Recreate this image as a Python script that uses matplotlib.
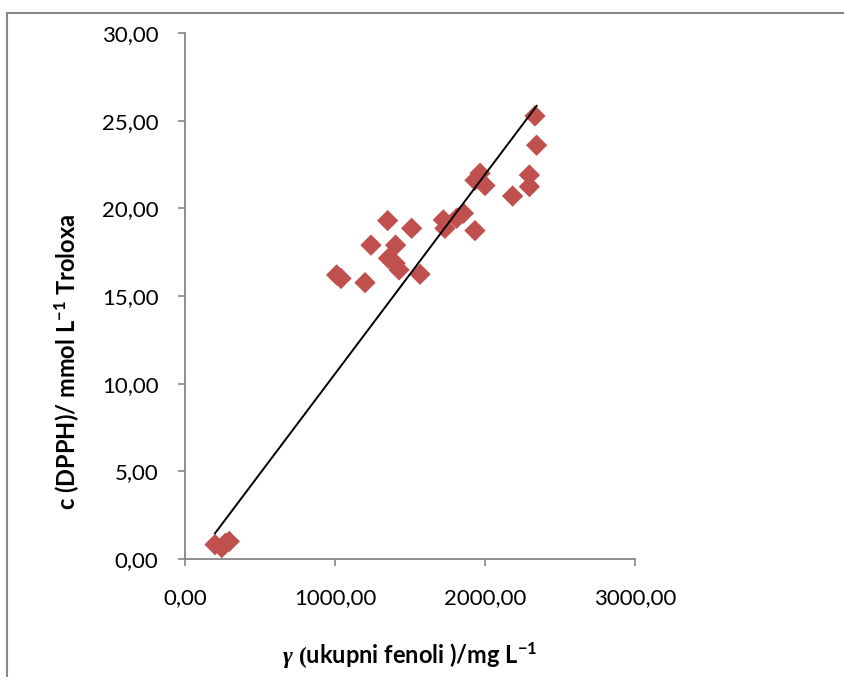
import matplotlib
matplotlib.use("Agg")
import matplotlib.pyplot as plt
from matplotlib.patches import Rectangle
from matplotlib.ticker import FuncFormatter
import numpy as np

# ── Data ──────────────────────────────────────────────────────────────────────
phenols = [200, 245, 270, 295,
           1011, 1040, 1200, 1240, 1351, 1356, 1400, 1404, 1427, 1511, 1567,
           1722, 1733, 1811, 1856, 1933, 1933, 1967, 2000, 2184, 2296, 2296,
           2344, 2333]
dpph = [0.82, 0.65, 0.90, 1.00,
        16.20, 16.00, 15.76, 17.90, 19.30, 17.15, 16.87, 17.90, 16.49, 18.86, 16.24,
        19.34, 18.86, 19.43, 19.72, 18.73, 21.60, 22.00, 21.30, 20.70, 21.90, 21.24,
        23.60, 25.27]

trend_slope     = 0.01137
trend_intercept = -0.81

x_ticks = [0, 1000, 2000, 3000]
y_ticks = [0, 5, 10, 15, 20, 25, 30]

GREY   = "#868686"
MARKER = "#C0504D"

plt.rcParams["font.family"] = ["Lato", "DejaVu Sans"]
plt.rcParams["mathtext.fontset"] = "custom"
plt.rcParams["mathtext.rm"] = "Lato:bold"
plt.rcParams["mathtext.it"] = "Lato:italic:bold"
plt.rcParams["mathtext.bf"] = "Lato:bold"
plt.rcParams["mathtext.sf"] = "Liberation Serif:italic:bold"
plt.rcParams["mathtext.tt"] = "Liberation Serif:bold"


def comma_fmt(v, _pos):
    return f"{v:.2f}".replace(".", ",")


fig = plt.figure(figsize=(8.44, 6.77), dpi=100)
ax = fig.add_axes([185 / 844, 1 - 559 / 677, 450 / 844, 526 / 677])

ax.scatter(phenols, dpph, marker="D", s=118, color=MARKER, edgecolors="none",
           zorder=2)

tx = np.array([min(phenols), max(phenols)])
ax.plot(tx, trend_slope * tx + trend_intercept, color="black", lw=1.4, zorder=3)

ax.set_xlim(0, 3000)
ax.set_ylim(0, 30)
ax.set_xticks(x_ticks)
ax.set_yticks(y_ticks)
ax.xaxis.set_major_formatter(FuncFormatter(comma_fmt))
ax.yaxis.set_major_formatter(FuncFormatter(comma_fmt))

for side in ("top", "right"):
    ax.spines[side].set_visible(False)
for side in ("left", "bottom"):
    ax.spines[side].set_color(GREY)
    ax.spines[side].set_linewidth(1.3)

ax.tick_params(axis="both", colors=GREY, length=5, width=1.2,
               labelsize=16, labelcolor="black")
ax.tick_params(axis="y", pad=14)
ax.tick_params(axis="x", pad=16)

ax.set_ylabel(r"c (DPPH)/ mmol L$^{\mathrm{-1}}$ Troloxa",
              fontsize=17, fontweight="bold")
ax.yaxis.set_label_coords(-0.229, 0.375)
ax.set_xlabel(r"$\mathsf{\gamma}\ \mathtt{(}$ukupni fenoli )/mg L$^{\mathrm{-1}}$",
              fontsize=17, fontweight="bold")
ax.xaxis.set_label_coords(0.5, -0.155)

# outer chart-area border (cut off by the image on the right and bottom)
fig.add_artist(Rectangle((7 / 844, -0.1), 2, 1 - 13 / 677 + 0.1,
                         transform=fig.transFigure, fill=False,
                         edgecolor=GREY, lw=1.5))

fig.savefig("out.png", dpi=100)
